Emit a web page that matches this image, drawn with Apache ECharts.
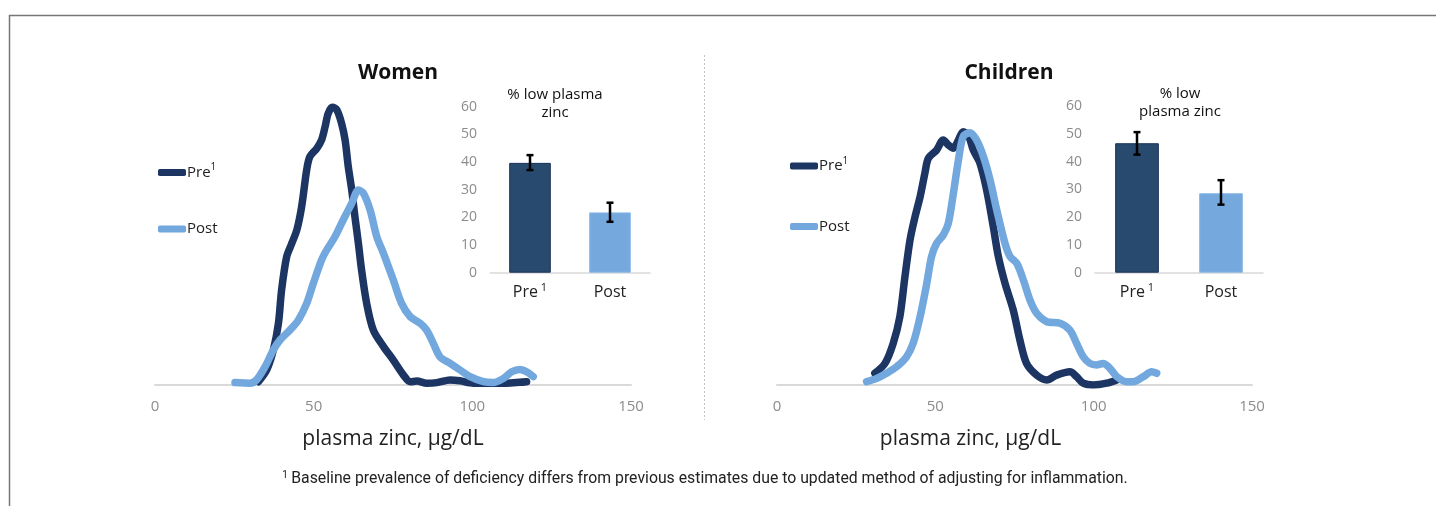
<!DOCTYPE html>
<html><head><meta charset="utf-8">
<script src="https://cdn.jsdelivr.net/npm/echarts@6/dist/echarts.min.js"></script>
<style>html,body{margin:0;padding:0;background:#fff}#c{width:1436px;height:506px}</style>
</head><body><div id="c"></div>
<script>
// ---- data ----
const womenPre = [[32.6,1.1],[35.2,5],[37.3,11.7],[38.9,20.6],[39.9,31.7],[41.5,42.8],[43.1,47.2],[44.7,51.7],[46.2,59.4],[47.8,71.7],[48.8,76.1],[51.0,78.9],[52.5,81.7],[53.6,86.1],[54.6,90.6],[55.9,92.6],[57.3,91.7],[58.8,87.2],[59.9,81.7],[60.9,72.8],[62.0,65],[63.0,56.1],[64.1,47.2],[65.1,38.3],[66.7,27.2],[68.8,18.3],[72.0,12.8],[75.1,8.3],[78.3,3.3],[80.4,1.1],[82.5,1.3],[85.6,0.6],[88.8,0.8],[93.0,1.7],[96.1,1.4],[100.3,0.6],[105.6,0.6],[110.8,0.6],[115.0,0.9],[117.1,1.1]];
const womenPost = [[25.2,0.8],[29.9,0.6],[32.0,1.7],[34.7,6.1],[37.3,11.7],[39.4,15],[42.5,18.3],[45.2,21.7],[47.8,27.2],[49.9,33.9],[52.5,41.7],[54.1,45],[56.7,49.4],[59.3,55],[62.0,60.6],[64.1,65],[65.7,63.9],[67.8,58.3],[69.9,49.4],[72.0,43.9],[75.1,35],[77.7,27.2],[80.4,22.8],[83.5,20.6],[85.6,18.3],[87.7,13.9],[89.8,9.4],[93.0,7.2],[96.1,5],[99.3,2.8],[103.5,1.1],[106.6,0.8],[109.8,2.2],[112.4,4.4],[115.0,5.2],[117.1,4.4],[119.2,2.8]];
const childrenPre = [[30.9,3.9],[34.1,7.2],[36.7,13.9],[38.8,22.8],[40.4,36.1],[42.0,48.3],[43.6,56.1],[45.2,62.8],[46.7,70.6],[47.8,75.6],[50.4,78.3],[52.5,81.7],[54.1,80],[55.7,78.9],[57.3,81.7],[58.8,84.4],[60.4,83.3],[62.0,78.3],[64.1,73.9],[66.2,65],[68.3,52.8],[69.9,42.8],[72.0,33.9],[74.6,25],[76.7,15],[78.8,7.2],[82.0,3.3],[85.2,1.7],[88.3,3.3],[92.5,4.4],[94.6,2.8],[96.7,0.6],[99.9,0],[104.1,0.6],[107.3,1.7]];
const childrenPost = [[28.3,1.1],[31.5,2.2],[34.6,3.9],[37.8,6.1],[40.9,9.4],[43.0,13.9],[45.2,22.8],[47.3,33.9],[48.8,42.8],[50.4,47.2],[52.5,50],[54.1,53.9],[55.7,63.9],[57.3,75],[58.8,82.8],[60.9,84.1],[63.0,81.7],[65.2,76.1],[67.3,68.3],[69.4,58.3],[72.0,47.2],[73.6,42.8],[75.7,40.6],[77.8,35],[79.9,28.3],[82.0,23.9],[85.2,21.1],[89.4,20.6],[92.5,18.3],[94.6,13.9],[96.7,9.4],[98.8,7.2],[100.9,6.7],[103.0,7.2],[105.1,5.6],[107.3,2.8],[110.4,1.1],[112.5,1.1],[115.7,2.8],[118.3,4.4],[119.9,3.9]];

const barCategories = ['Pre', 'Post'];
const womenPct = [39.7, 21.8];
const womenErrLow = [37.1, 18.4];
const womenErrHigh = [42.5, 25.3];
const childrenPct = [46.6, 28.6];
const childrenErrLow = [42.5, 24.5];
const childrenErrHigh = [50.6, 33.3];

const xAxisName = 'plasma zinc, µg/dL';
const footnote = 'Baseline prevalence of deficiency differs from previous estimates due to updated method of adjusting for inflammation.';

// ---- styling ----
const FONT = 'Open Sans';
const DARK = '#1d3562';
const LIGHT = '#72a8dd';
const BAR_DARK = '#294a6f';
const BAR_LIGHT = '#75a9de';
const GRAY = '#8c8c8c';

const chart = echarts.init(document.getElementById('c'));

function densityX(grid, nameShift) {
  return {
    gridIndex: grid, type: 'value', min: 0, max: 150, interval: 50,
    axisLine: { show: true, lineStyle: { color: '#d9d9d9', width: 2 } },
    axisTick: { show: false }, splitLine: { show: false },
    axisLabel: { color: GRAY, fontSize: 15, margin: 14, fontFamily: FONT },
    name: xAxisName, nameLocation: 'middle', nameGap: 44,
    nameTextStyle: { fontSize: 21, color: '#222', fontFamily: FONT, padding: [0, nameShift, 0, 0] }
  };
}
function densityY(grid) {
  return { gridIndex: grid, type: 'value', min: 0, max: 100, show: false };
}
function barX(grid) {
  return {
    gridIndex: grid, type: 'category', data: barCategories,
    axisLine: { show: true, lineStyle: { color: '#d9d9d9', width: 1.5 } },
    axisTick: { show: false },
    axisLabel: {
      interval: 0, margin: 10, fontFamily: FONT,
      formatter: v => v === 'Pre' ? '{a|Pre}{s| 1}' : '{a|' + v + '}',
      rich: {
        a: { fontSize: 16, color: '#222', fontFamily: FONT, lineHeight: 20 },
        s: { fontSize: 11, color: '#222', fontFamily: FONT, lineHeight: 12, verticalAlign: 'top' }
      }
    }
  };
}
function barY(grid) {
  return {
    gridIndex: grid, type: 'value', min: 0, max: 60, interval: 10,
    axisLine: { show: false }, axisTick: { show: false }, splitLine: { show: false },
    axisLabel: { color: GRAY, fontSize: 14, margin: 13, fontFamily: FONT }
  };
}
function lineSeries(name, data, axis, color) {
  return {
    name, type: 'line', data, xAxisIndex: axis, yAxisIndex: axis,
    smooth: 0.3, showSymbol: false, symbol: 'none', color,
    lineStyle: { color, width: 7.5, cap: 'round', join: 'round' },
    silent: true
  };
}
function barSeries(vals, axis) {
  return {
    name: 'pct' + axis, type: 'bar', xAxisIndex: axis, yAxisIndex: axis, barWidth: '52%',
    data: vals.map((v, i) => ({
      value: v,
      itemStyle: i === 0 ? { color: BAR_DARK, borderColor: '#1a3159', borderWidth: 1 }
                         : { color: BAR_LIGHT, borderColor: '#8ab8e6', borderWidth: 1 }
    }))
  };
}
function errSeries(lo, hi, axis) {
  return {
    name: 'err' + axis, type: 'custom', xAxisIndex: axis, yAxisIndex: axis,
    data: lo.map((l, i) => [i, l, hi[i]]),
    encode: { x: 0, y: [1, 2] }, z: 5,
    renderItem: (params, api) => {
      const i = api.value(0);
      const a = api.coord([i, api.value(1)]);
      const b = api.coord([i, api.value(2)]);
      const w = 3.5, st = { stroke: '#000', lineWidth: 2.5 };
      return { type: 'group', children: [
        { type: 'line', shape: { x1: a[0], y1: a[1], x2: b[0], y2: b[1] }, style: st },
        { type: 'line', shape: { x1: a[0] - w, y1: a[1], x2: a[0] + w, y2: a[1] }, style: st },
        { type: 'line', shape: { x1: b[0] - w, y1: b[1], x2: b[0] + w, y2: b[1] }, style: st }
      ]};
    }
  };
}
function legend(left, top, gap) {
  return {
    orient: 'vertical', left, top, itemGap: gap, itemWidth: 28, itemHeight: 7, padding: 0,
    icon: 'roundRect', data: ['Pre', 'Post'], selectedMode: false,
    formatter: n => n === 'Pre' ? '{a|Pre}{s|1}' : '{a|' + n + '}',
    textStyle: {
      fontFamily: FONT, padding: [0, 0, 0, -4],
      rich: {
        a: { fontSize: 15, color: '#222', fontFamily: FONT, lineHeight: 20 },
        s: { fontSize: 10, color: '#222', fontFamily: FONT, lineHeight: 12, verticalAlign: 'top' }
      }
    }
  };
}
function txt(x, y, text, size, weight) {
  return { type: 'text', x, y, silent: true,
    style: { text, fontSize: size, fontWeight: weight || 'normal', fontFamily: FONT, fill: '#111',
      align: 'center', verticalAlign: 'middle', lineHeight: 18 } };
}

chart.setOption({
  animation: false,
  grid: [
    { left: 155, top: 85, width: 476, height: 300 },
    { left: 490, top: 106.7, width: 160, height: 166 },
    { left: 777, top: 85, width: 475, height: 300 },
    { left: 1095, top: 106, width: 168, height: 166.7 }
  ],
  xAxis: [densityX(0, 0), barX(1), densityX(2, 88), barX(3)],
  yAxis: [densityY(0), barY(1), densityY(2), barY(3)],
  legend: [legend(158, 162.5, 41.5), legend(790, 156, 45.5)],
  series: [
    lineSeries('Pre', womenPre, 0, DARK),
    lineSeries('Post', womenPost, 0, LIGHT),
    barSeries(womenPct, 1),
    errSeries(womenErrLow, womenErrHigh, 1),
    lineSeries('Pre', childrenPre, 2, DARK),
    lineSeries('Post', childrenPost, 2, LIGHT),
    barSeries(childrenPct, 3),
    errSeries(childrenErrLow, childrenErrHigh, 3)
  ],
  graphic: [
    { type: 'line', silent: true, shape: { x1: 9, y1: 15.5, x2: 1436, y2: 15.5 }, style: { stroke: '#777', lineWidth: 1.5 } },
    { type: 'line', silent: true, shape: { x1: 9.5, y1: 15, x2: 9.5, y2: 506 }, style: { stroke: '#777', lineWidth: 1.5 } },
    { type: 'line', silent: true, shape: { x1: 704.5, y1: 55, x2: 704.5, y2: 420 }, style: { stroke: '#c4c4c4', lineWidth: 1, lineDash: [2, 2] } },
    txt(398, 73, 'Women', 21, 'bold'),
    txt(1009, 73, 'Children', 21, 'bold'),
    txt(555, 104, '% low plasma\nzinc', 15),
    txt(1180, 103, '% low\nplasma zinc', 15),
    { type: 'text', x: 705, y: 479, silent: true,
      style: { text: '{s|1} {a|' + footnote + '}', align: 'center', verticalAlign: 'middle',
        rich: {
          a: { fontSize: 15.8, fontFamily: 'Roboto', fill: '#222', lineHeight: 18 },
          s: { fontSize: 10, fontFamily: 'Roboto', fill: '#222', lineHeight: 12, verticalAlign: 'top' }
        } } }
  ]
});
</script></body></html>
